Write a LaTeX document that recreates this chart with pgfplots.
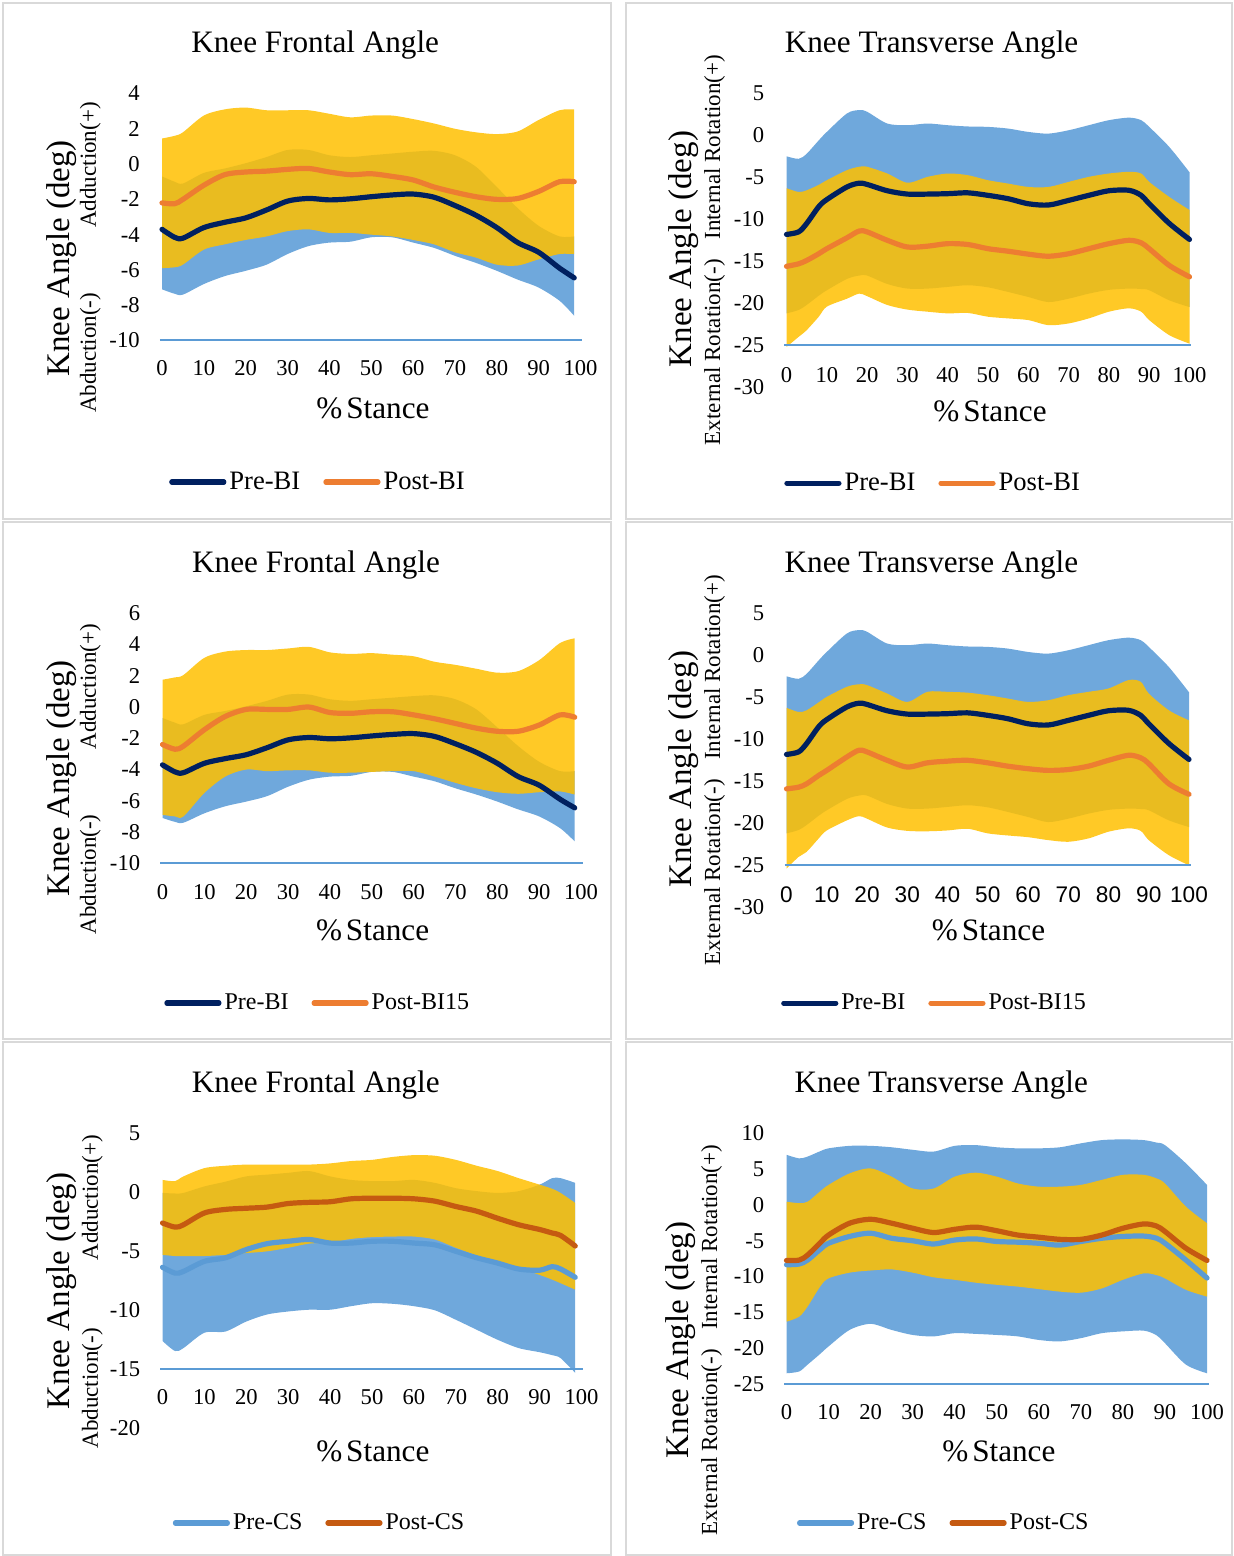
\documentclass[border=0pt]{standalone}
\usepackage{fontspec}
\setmainfont{Liberation Serif}
\newfontfamily\arialf{Liberation Sans}
\usepackage{pgfplots}
\pgfplotsset{compat=1.18}
\usepackage{pgfplotstable}
\usepgfplotslibrary{fillbetween}

\definecolor{navy}{HTML}{002060}
\definecolor{orng}{HTML}{ED7D31}
\definecolor{cblue}{HTML}{5B9BD5}
\definecolor{corng}{HTML}{C55A11}
\definecolor{bandblue}{HTML}{6FA8DC}
\definecolor{bandyel}{HTML}{FFC000}
\definecolor{axblue}{HTML}{5B9BD5}
\definecolor{framegray}{HTML}{D9D9D9}

\newcommand\tickf{\fontsize{11.3pt}{13pt}\selectfont}
\newcommand\titf{\fontsize{15.6pt}{18pt}\selectfont}
\newcommand\ylabf{\fontsize{16.5pt}{19pt}\selectfont}
\newcommand\subf{\fontsize{11.5pt}{13pt}\selectfont}
\newcommand\legA{\fontsize{13.3pt}{15pt}\selectfont}
\newcommand\legB{\fontsize{12pt}{14pt}\selectfont}
\newcommand\stance{\%\kern2pt Stance}

% x preM preU preL postM postU postL
\pgfplotstableread{
x preM preU preL postM postU postL
0 -3.7 -0.7 -7.1 -2.2 1.45 -5.9
3 -4.15 -1.0 -7.35 -2.25 1.6 -5.85
5 -4.2 -1.1 -7.4 -2.0 1.8 -5.7
10 -3.6 -0.5 -6.8 -1.2 2.75 -4.85
15 -3.3 -0.25 -6.35 -0.6 3.1 -4.55
20 -3.05 0.05 -6.05 -0.45 3.2 -4.3
25 -2.6 0.4 -5.7 -0.4 3.05 -4.1
30 -2.1 0.8 -5.1 -0.3 3.05 -3.8
35 -1.95 0.8 -4.65 -0.25 3.05 -3.7
40 -2.03 0.5 -4.45 -0.45 2.85 -3.9
45 -1.97 0.4 -4.4 -0.6 2.65 -3.9
50 -1.85 0.5 -4.15 -0.55 2.75 -4.0
55 -1.75 0.6 -4.15 -0.7 2.75 -4.1
60 -1.7 0.7 -4.45 -0.9 2.55 -4.3
65 -1.88 0.75 -4.75 -1.3 2.3 -4.55
70 -2.35 0.5 -5.2 -1.6 2.0 -5.0
75 -2.9 -0.15 -5.6 -1.85 1.8 -5.3
80 -3.6 -1.3 -6.05 -2.0 1.7 -5.7
85 -4.45 -2.5 -6.55 -1.95 1.85 -5.75
90 -5.0 -3.5 -7.0 -1.55 2.5 -5.4
95 -5.9 -4.1 -7.75 -1.0 3.05 -5.1
98.5 -6.45 -4.1 -8.6 -1.0 3.1 -5.1
}\tOne

\pgfplotstableread{
x preM preU preL postM postU postL
0 -11.8 -2.5 -21.2 -15.6 -6.3 -25.2
3 -11.5 -2.8 -20.8 -15.3 -6.75 -24.0
5 -10.5 -2.2 -20.2 -14.9 -6.55 -23.2
8 -8.5 -0.6 -19.1 -14.1 -5.9 -21.6
10 -7.65 0.4 -18.45 -13.5 -5.35 -20.4
15 -6.15 2.6 -17.1 -12.2 -4.15 -19.45
18 -5.7 3.0 -16.7 -11.4 -3.75 -18.85
20 -5.85 2.8 -16.7 -11.5 -3.75 -19.15
25 -6.6 1.4 -17.7 -12.5 -4.55 -20.2
30 -7.0 1.2 -18.25 -13.3 -5.65 -20.75
35 -7.0 1.4 -18.25 -13.2 -4.95 -21.0
40 -6.95 1.2 -18.05 -12.9 -4.55 -21.2
45 -6.85 1.05 -17.85 -13.0 -4.75 -21.15
50 -7.15 1.0 -18.1 -13.5 -5.35 -21.6
55 -7.55 0.8 -18.65 -13.8 -5.75 -21.8
60 -8.15 0.4 -19.25 -14.15 -6.15 -22.0
65 -8.3 0.2 -19.85 -14.4 -6.15 -22.6
70 -7.75 0.6 -19.45 -14.1 -5.55 -22.4
75 -7.15 1.2 -18.85 -13.5 -4.95 -21.8
80 -6.6 1.8 -18.4 -12.9 -4.55 -21.0
85 -6.55 2.1 -18.25 -12.5 -4.35 -20.6
88 -7.15 1.8 -18.3 -12.8 -4.55 -21.0
90 -8.15 1.0 -18.45 -13.5 -5.55 -22.0
95 -10.5 -1.4 -19.65 -15.5 -7.35 -23.8
100 -12.4 -4.4 -20.45 -16.85 -8.9 -24.8
}\tTwo

\pgfplotstableread{
x preM preU preL postM postU postL
0 -3.7 -0.7 -7.1 -2.4 1.75 -6.9
3 -4.15 -1.0 -7.35 -2.7 1.9 -7.0
5 -4.2 -1.1 -7.4 -2.5 2.05 -7.0
10 -3.6 -0.5 -6.8 -1.45 3.15 -5.5
15 -3.3 -0.25 -6.35 -0.6 3.55 -4.45
20 -3.05 0.05 -6.05 -0.15 3.65 -4.0
25 -2.6 0.4 -5.7 -0.15 3.65 -4.1
30 -2.1 0.8 -5.1 -0.15 3.75 -4.05
35 -1.95 0.8 -4.65 0.0 3.85 -4.05
40 -2.03 0.5 -4.45 -0.35 3.5 -4.2
45 -1.97 0.4 -4.4 -0.4 3.4 -4.2
50 -1.85 0.5 -4.15 -0.3 3.45 -4.15
55 -1.75 0.6 -4.15 -0.3 3.35 -4.1
60 -1.7 0.7 -4.45 -0.5 3.25 -4.1
65 -1.88 0.75 -4.75 -0.75 2.9 -4.45
70 -2.35 0.5 -5.2 -1.05 2.7 -4.85
75 -2.9 -0.15 -5.6 -1.35 2.45 -5.2
80 -3.6 -1.3 -6.05 -1.55 2.2 -5.45
85 -4.45 -2.5 -6.55 -1.55 2.3 -5.55
90 -5.0 -3.5 -7.0 -1.15 3.0 -5.45
95 -5.9 -4.1 -7.75 -0.5 4.1 -5.4
98.5 -6.45 -4.1 -8.6 -0.65 4.4 -5.6
}\tThree

\pgfplotstableread{
x preM preU preL postM postU postL
0 -11.8 -2.5 -21.2 -15.9 -6.25 -25.4
3 -11.5 -2.8 -20.8 -15.7 -6.75 -24.0
5 -10.5 -2.2 -20.2 -15.3 -6.55 -23.4
8 -8.5 -0.6 -19.1 -14.3 -5.6 -21.8
10 -7.65 0.4 -18.45 -13.7 -4.95 -20.85
15 -6.15 2.6 -17.1 -12.1 -3.75 -19.65
18 -5.7 3.0 -16.7 -11.3 -3.45 -19.15
20 -5.85 2.8 -16.7 -11.5 -3.55 -19.45
25 -6.6 1.4 -17.7 -12.5 -4.55 -20.5
30 -7.0 1.2 -18.25 -13.3 -5.55 -20.9
35 -7.0 1.4 -18.25 -12.8 -4.35 -20.95
40 -6.95 1.2 -18.05 -12.6 -4.35 -20.85
45 -6.85 1.05 -17.85 -12.5 -4.45 -20.65
50 -7.15 1.0 -18.1 -12.8 -4.75 -21.2
55 -7.55 0.8 -18.65 -13.2 -5.15 -21.45
60 -8.15 0.4 -19.25 -13.5 -5.55 -21.65
65 -8.3 0.2 -19.85 -13.7 -5.35 -22.0
70 -7.75 0.6 -19.45 -13.6 -4.75 -22.2
75 -7.15 1.2 -18.85 -13.2 -4.35 -21.8
80 -6.6 1.8 -18.4 -12.5 -3.95 -21.0
85 -6.55 2.1 -18.25 -11.9 -2.95 -20.6
88 -7.15 1.8 -18.3 -12.2 -3.15 -20.9
90 -8.15 1.0 -18.45 -12.9 -4.55 -22.0
95 -10.5 -1.4 -19.65 -15.3 -6.55 -23.8
100 -12.4 -4.4 -20.45 -16.55 -7.75 -25.0
}\tFour

\pgfplotstableread{
x preM preU preL postM postU postL
0 -6.35 -0.05 -12.6 -2.6 1.05 -5.3
3 -6.85 -0.1 -13.45 -2.95 0.95 -5.4
5 -6.7 -0.05 -13.2 -2.75 1.35 -5.4
10 -5.85 0.5 -11.9 -1.75 2.05 -5.4
15 -5.55 0.9 -11.8 -1.45 2.25 -5.3
20 -4.85 1.35 -10.95 -1.35 2.35 -5.15
25 -4.35 1.5 -10.35 -1.25 2.35 -5.0
30 -4.15 1.65 -10.1 -0.95 2.35 -4.7
35 -4.0 1.8 -9.95 -0.85 2.35 -4.35
40 -4.3 1.35 -9.95 -0.8 2.45 -4.25
45 -4.3 1.05 -9.65 -0.55 2.65 -3.95
50 -4.15 0.95 -9.4 -0.5 2.75 -3.8
55 -4.15 0.95 -9.45 -0.5 3.0 -3.75
60 -4.3 1.05 -9.65 -0.55 3.15 -3.75
65 -4.45 0.8 -10.0 -0.75 3.1 -4.0
70 -5.0 0.35 -10.8 -1.2 2.75 -4.7
75 -5.55 0.1 -11.65 -1.6 2.25 -5.35
80 -6.0 -0.05 -12.5 -2.2 1.8 -5.95
85 -6.5 0.1 -13.2 -2.75 1.2 -6.4
90 -6.6 0.65 -13.55 -3.15 0.65 -7.0
93 -6.3 1.2 -13.8 -3.45 0.3 -7.4
95 -6.5 1.2 -14.05 -3.65 -0.05 -7.7
98.5 -7.2 0.8 -15.3 -4.55 -0.9 -8.25
}\tFive

\pgfplotstableread{
x preM preU preL postM postU postL
0 -8.35 7.0 -23.5 -7.75 0.45 -16.3
3 -8.25 6.5 -23.25 -7.7 0.25 -15.6
5 -7.7 6.75 -22.3 -7.0 0.45 -14.2
8 -6.2 7.5 -20.8 -5.3 1.9 -11.4
10 -5.35 7.9 -19.75 -4.2 2.8 -10.25
15 -4.4 8.25 -17.45 -2.55 4.4 -9.45
20 -3.95 8.25 -16.6 -2.0 5.1 -9.15
25 -4.65 8.05 -17.45 -2.55 3.95 -9.0
30 -5.0 7.7 -18.15 -3.25 2.3 -9.45
35 -5.45 7.45 -18.35 -3.85 2.3 -10.1
40 -4.9 8.25 -17.9 -3.4 3.95 -10.45
45 -4.75 8.35 -18.0 -3.1 4.5 -10.85
50 -5.1 8.05 -18.15 -3.6 3.95 -11.15
55 -5.2 7.9 -18.35 -4.2 3.0 -11.4
60 -5.35 7.9 -18.85 -4.5 2.55 -11.75
65 -5.6 8.05 -19.05 -4.8 2.55 -12.1
70 -5.1 8.6 -18.6 -4.8 2.8 -12.25
75 -4.65 9.05 -17.9 -4.2 3.5 -11.65
80 -4.4 9.15 -17.65 -3.25 4.2 -10.45
85 -4.35 9.05 -17.55 -2.65 4.2 -9.55
88 -4.65 8.7 -18.2 -2.95 3.7 -9.8
90 -5.35 8.35 -19.3 -3.7 3.0 -10.25
95 -7.7 5.8 -22.3 -6.05 -0.25 -11.85
100 -10.2 2.8 -23.5 -7.75 -2.55 -12.8
}\tSix

\pgfplotsset{
  panel/.style={
    scale only axis, clip=false,
    xmin=0, xmax=100, xtick={0,10,...,100},
    axis line style={draw=none}, major tick length=0pt,
    /pgf/number format/assume math mode=true,
    ticklabel style={font=\tickf},
    yticklabel style={anchor=east, inner sep=0pt, xshift=-11pt},
    xticklabel style={anchor=center},
    title style={anchor=base, font=\titf, yshift=0pt},
    xlabel style={anchor=base, font=\titf},
    ylabel style={anchor=base, font=\ylabf},
    legend columns=2,
    legend style={anchor=center, draw=none, fill=none,
      /tikz/every even column/.append style={column sep=10pt},
      nodes={inner sep=1.5pt}},
    legend image code/.code={\draw[##1, line width=2.6pt, line cap=round] (0pt,0pt) -- (26pt,0pt);},
  },
  band/.style={draw=none, forget plot, smooth},
  mean/.style={line width=2.6pt, smooth, line cap=round, line join=round},
}

\begin{document}
\begin{tikzpicture}
\path (0pt,0pt) rectangle (616.5pt,-778pt);
\draw[framegray, line width=0.8pt] (1.5pt,-1.5pt) rectangle (305.5pt,-259.5pt);
\draw[framegray, line width=0.8pt] (313pt,-1.5pt) rectangle (616pt,-259.5pt);
\draw[framegray, line width=0.8pt] (1.5pt,-261pt) rectangle (305.5pt,-519.5pt);
\draw[framegray, line width=0.8pt] (313pt,-261pt) rectangle (616pt,-519.5pt);
\draw[framegray, line width=0.8pt] (1.5pt,-521pt) rectangle (305.5pt,-777.5pt);
\draw[framegray, line width=0.8pt] (313pt,-521pt) rectangle (616pt,-777.5pt);

% ---------- Panel 1 ----------
\begin{axis}[panel, at={(81pt,-170.25pt)}, anchor=south west,
  width=209.25pt, height=123.5pt,
  ymin=-10, ymax=4, ytick={-10,-8,...,4},
  xticklabel style={yshift=-13.75pt},
  title={Knee Frontal Angle}, title style={at={(0.366,1.116)}},
  xlabel={\stance}, xlabel style={at={(0.504,-0.315)}},
  ylabel={Knee Angle (deg)}, ylabel style={at={(-0.222,0.333)}},
  legend style={at={(0.374,-0.573)}, font=\legA},
]
\addplot[band, name path=aU] table[x=x,y=preU]{\tOne};
\addplot[band, name path=aL] table[x=x,y=preL]{\tOne};
\addplot[bandblue, forget plot] fill between[of=aU and aL];
\addplot[band, name path=aPU] table[x=x,y=postU]{\tOne};
\addplot[band, name path=aPL] table[x=x,y=postL]{\tOne};
\addplot[bandyel, fill opacity=0.85, forget plot] fill between[of=aPU and aPL];
\addplot[axblue, line width=1pt, forget plot] coordinates {(-0.5,-10) (100.4,-10)};
\addplot[navy, mean] table[x=x,y=preM]{\tOne};
\addlegendentry{Pre-BI}
\addplot[orng, mean] table[x=x,y=postM]{\tOne};
\addlegendentry{Post-BI}
\node[rotate=90, anchor=base, font=\subf] at (axis description cs:-0.158,0.336) {Abduction(-)\hspace{2.83em}Adduction(+)};
\end{axis}

% ---------- Panel 2 ----------
\begin{axis}[panel, at={(393.25pt,-193.65pt)}, anchor=south west,
  width=201.5pt, height=147pt,
  ymin=-30, ymax=5, ytick={-30,-25,...,5},
  xticklabel style={yshift=6.15pt},
  title={Knee Transverse Angle}, title style={at={(0.36,1.097)}},
  xlabel={\stance}, xlabel style={at={(0.505,-0.117)}},
  ylabel={Knee Angle (deg)}, ylabel style={at={(-0.237,0.47)}},
  legend style={at={(0.365,-0.326)}, font=\legA},
]
\addplot[band, name path=bU] table[x=x,y=preU]{\tTwo};
\addplot[band, name path=bL] table[x=x,y=preL]{\tTwo};
\addplot[bandblue, forget plot] fill between[of=bU and bL];
\addplot[band, name path=bPU] table[x=x,y=postU]{\tTwo};
\addplot[band, name path=bPL] table[x=x,y=postL]{\tTwo};
\addplot[bandyel, fill opacity=0.85, forget plot] fill between[of=bPU and bPL];
\addplot[axblue, line width=1pt, forget plot] coordinates {(-0.5,-25) (100.4,-25)};
\addplot[navy, mean] table[x=x,y=preM]{\tTwo};
\addlegendentry{Pre-BI}
\addplot[orng, mean] table[x=x,y=postM]{\tTwo};
\addlegendentry{Post-BI}
\node[rotate=90, anchor=base, font=\subf] at (axis description cs:-0.165,0.467) {External Rotation(-)\hspace{0.85em}Internal Rotation(+)};
\end{axis}

% ---------- Panel 3 ----------
\begin{axis}[panel, at={(81.25pt,-431.65pt)}, anchor=south west,
  width=209.25pt, height=125pt,
  ymin=-10, ymax=6, ytick={-10,-8,...,6},
  xticklabel style={yshift=-14.2pt},
  title={Knee Frontal Angle}, title style={at={(0.367,1.114)}},
  xlabel={\stance}, xlabel style={at={(0.502,-0.31)}},
  ylabel={Knee Angle (deg)}, ylabel style={at={(-0.223,0.34)}},
  legend style={at={(0.372,-0.559)}, font=\legB},
]
\addplot[band, name path=cU] table[x=x,y=preU]{\tThree};
\addplot[band, name path=cL] table[x=x,y=preL]{\tThree};
\addplot[bandblue, forget plot] fill between[of=cU and cL];
\addplot[band, name path=cPU] table[x=x,y=postU]{\tThree};
\addplot[band, name path=cPL] table[x=x,y=postL]{\tThree};
\addplot[bandyel, fill opacity=0.85, forget plot] fill between[of=cPU and cPL];
\addplot[axblue, line width=1pt, forget plot] coordinates {(-0.5,-10) (100.4,-10)};
\addplot[navy, mean] table[x=x,y=preM]{\tThree};
\addlegendentry{Pre-BI}
\addplot[orng, mean] table[x=x,y=postM]{\tThree};
\addlegendentry{Post-BI15}
\node[rotate=90, anchor=base, font=\subf] at (axis description cs:-0.159,0.336) {Abduction(-)\hspace{2.83em}Adduction(+)};
\end{axis}

% ---------- Panel 4 ----------
\begin{axis}[panel, at={(393.25pt,-453.65pt)}, anchor=south west,
  width=201.25pt, height=147pt,
  ymin=-30, ymax=5, ytick={-30,-25,...,5},
  xticklabel style={yshift=6.15pt, font=\arialf\tickf},
  title={Knee Transverse Angle}, title style={at={(0.36,1.097)}},
  xlabel={\stance}, xlabel style={at={(0.502,-0.114)}},
  ylabel={Knee Angle (deg)}, ylabel style={at={(-0.237,0.47)}},
  legend style={at={(0.369,-0.326)}, font=\legB},
]
\addplot[band, name path=dU] table[x=x,y=preU]{\tFour};
\addplot[band, name path=dL] table[x=x,y=preL]{\tFour};
\addplot[bandblue, forget plot] fill between[of=dU and dL];
\addplot[band, name path=dPU] table[x=x,y=postU]{\tFour};
\addplot[band, name path=dPL] table[x=x,y=postL]{\tFour};
\addplot[bandyel, fill opacity=0.85, forget plot] fill between[of=dPU and dPL];
\addplot[axblue, line width=1pt, forget plot] coordinates {(-0.5,-25) (100.4,-25)};
\addplot[navy, mean] table[x=x,y=preM]{\tFour};
\addlegendentry{Pre-BI}
\addplot[orng, mean] table[x=x,y=postM]{\tFour};
\addlegendentry{Post-BI15}
\node[rotate=90, anchor=base, font=\subf] at (axis description cs:-0.165,0.467) {External Rotation(-)\hspace{0.85em}Internal Rotation(+)};
\end{axis}

% ---------- Panel 5 ----------
\begin{axis}[panel, at={(81.25pt,-714.15pt)}, anchor=south west,
  width=209.5pt, height=147.5pt,
  ymin=-20, ymax=5, ytick={-20,-15,...,5},
  xticklabel style={yshift=15.5pt},
  title={Knee Frontal Angle}, title style={at={(0.366,1.097)}},
  xlabel={\stance}, xlabel style={at={(0.502,-0.113)}},
  ylabel={Knee Angle (deg)}, ylabel style={at={(-0.221,0.466)}},
  legend style={at={(0.376,-0.321)}, font=\legB},
]
\addplot[band, name path=eU] table[x=x,y=preU]{\tFive};
\addplot[band, name path=eL] table[x=x,y=preL]{\tFive};
\addplot[bandblue, forget plot] fill between[of=eU and eL];
\addplot[band, name path=ePU] table[x=x,y=postU]{\tFive};
\addplot[band, name path=ePL] table[x=x,y=postL]{\tFive};
\addplot[bandyel, fill opacity=0.85, forget plot] fill between[of=ePU and ePL];
\addplot[axblue, line width=1pt, forget plot] coordinates {(-0.5,-15) (100.4,-15)};
\addplot[cblue, mean] table[x=x,y=preM]{\tFive};
\addlegendentry{Pre-CS}
\addplot[corng, mean] table[x=x,y=postM]{\tFive};
\addlegendentry{Post-CS}
\node[rotate=90, anchor=base, font=\subf] at (axis description cs:-0.154,0.463) {Abduction(-)\hspace{2.95em}Adduction(+)};
\end{axis}

% ---------- Panel 6 ----------
\begin{axis}[panel, at={(393.25pt,-692pt)}, anchor=south west,
  width=210.25pt, height=125.35pt,
  ymin=-25, ymax=10, ytick={-25,-20,...,10},
  xticklabel style={yshift=-13.85pt},
  title={Knee Transverse Angle}, title style={at={(0.368,1.114)}},
  xlabel={\stance}, xlabel style={at={(0.505,-0.31)}},
  ylabel={Knee Angle (deg)}, ylabel style={at={(-0.232,0.1755)}},
  legend style={at={(0.375,-0.554)}, font=\legB},
]
\addplot[band, name path=fU] table[x=x,y=preU]{\tSix};
\addplot[band, name path=fL] table[x=x,y=preL]{\tSix};
\addplot[bandblue, forget plot] fill between[of=fU and fL];
\addplot[band, name path=fPU] table[x=x,y=postU]{\tSix};
\addplot[band, name path=fPL] table[x=x,y=postL]{\tSix};
\addplot[bandyel, fill opacity=0.85, forget plot] fill between[of=fPU and fPL];
\addplot[axblue, line width=1pt, forget plot] coordinates {(-0.5,-25) (100.4,-25)};
\addplot[cblue, mean] table[x=x,y=preM]{\tSix};
\addlegendentry{Pre-CS}
\addplot[corng, mean] table[x=x,y=postM]{\tSix};
\addlegendentry{Post-CS}
\node[rotate=90, anchor=base, font=\subf] at (axis description cs:-0.165,0.1755) {External Rotation(-)\hspace{0.85em}Internal Rotation(+)};
\end{axis}
\end{tikzpicture}
\end{document}
